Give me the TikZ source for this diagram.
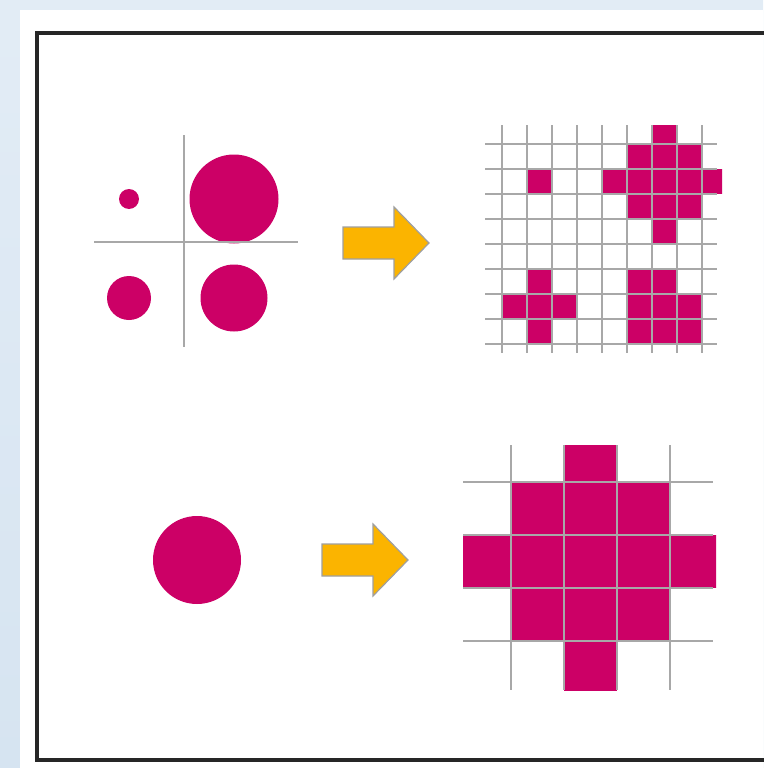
\documentclass[tikz,border=0pt]{standalone}
\usepackage{xcolor}
\usetikzlibrary{calc}
\definecolor{dotred}{HTML}{CC0066}
\definecolor{arroworange}{HTML}{FBB400}
\definecolor{gridgray}{HTML}{A8A8A8}
\definecolor{bgblue}{HTML}{D6E4F1}

\begin{document}
\begin{tikzpicture}[
    x=1pt, y=-1pt,
    dot/.style={fill=dotred},
    cell/.style={fill=dotred},
    gridline/.style={draw=gridgray, line width=1.4pt},
    bigarrow/.style={fill=arroworange, draw=gray!75, line width=1.2pt, line join=miter},
    frame/.style={draw=black!85, line width=3.5pt}
]
\useasboundingbox (0,0) rectangle (763,768);

% Background and frame
\shade[top color=bgblue!70, bottom color=bgblue] (0,0) rectangle (763,768);
\fill[white] (20,10) rectangle (763,768);
\draw[frame] (770,33) -- (37,33) -- (37,760) -- (770,760);

% Circles, top left
\fill[dot] (129,199) circle[radius=10pt];
\fill[dot] (234,199) circle[radius=44.5pt];
\fill[dot] (129,298) circle[radius=22pt];
\fill[dot] (234,298) circle[radius=33.5pt];
\draw[gridline, line width=1.2pt] (184,135) -- (184,347);
\draw[gridline, line width=1.2pt] (94,242) -- (298,242);

% Circle, bottom left
\fill[dot] (197,560) circle[radius=44pt];

% Arrows
\foreach \ax/\ay in {343/243, 322/560}
  \draw[bigarrow] (\ax,{\ay-16}) -- ++(51,0) -- ++(0,-20) -- ++(35,36) -- ++(-35,36) -- ++(0,-20) -- ++(-51,0) -- cycle;

% Fine grid, top right
\begin{scope}
\clip (485,125) rectangle (722,353);
\foreach \i/\j in {6/-1, 5/0,6/0,7/0, 1/1,4/1,5/1,6/1,7/1,8/1, 5/2,6/2,7/2, 6/3,
                   1/5,5/5,6/5, 0/6,1/6,2/6,5/6,6/6,7/6, 1/7,5/7,6/7,7/7}
  \fill[cell] ({502+25*\i},{144+25*\j}) rectangle ++(25,25);
\foreach \k in {0,...,8} {
  \draw[gridline] ({502+25*\k},125) -- ({502+25*\k},353);
  \draw[gridline] (485,{144+25*\k}) -- (717,{144+25*\k});
}
\end{scope}

% Coarse grid, bottom right
\begin{scope}
\clip (463,445) rectangle (716,690);
\foreach \i/\j in {1/-1, 0/0,1/0,2/0, -1/1,0/1,1/1,2/1,3/1, 0/2,1/2,2/2, 1/3}
  \fill[cell] ({511+53*\i},{482+53*\j}) rectangle ++(53,53);
\foreach \k in {0,...,3} {
  \draw[gridline] ({511+53*\k},445) -- ({511+53*\k},690);
  \draw[gridline] (463,{482+53*\k}) -- (713,{482+53*\k});
}
\end{scope}

\end{tikzpicture}
\end{document}
